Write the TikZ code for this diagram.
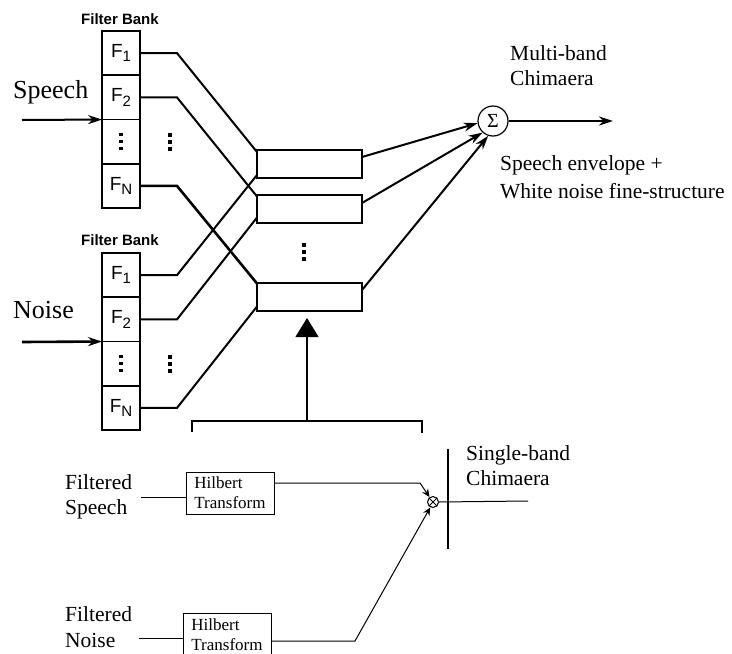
\documentclass[tikz,border=0pt]{standalone}
\usepackage{fontspec}
\setmainfont{Liberation Serif}
\setsansfont{Liberation Sans}
\usetikzlibrary{arrows.meta,calc}
\newcommand\Fsym[1]{F\raisebox{-4.5pt}{\fontsize{15}{15}\selectfont #1}}
\tikzset{
  cell/.style={draw, line width=1.8pt, rectangle, minimum width=38pt, minimum height=44.25pt,
    inner sep=0pt, outer sep=0pt, font=\sffamily\fontsize{19}{19}\selectfont},
  band/.style={draw, line width=2pt, rectangle, minimum width=105pt, minimum height=28pt,
    inner sep=0pt, outer sep=0pt},
  big/.style={font=\fontsize{26}{26}\selectfont, inner sep=0pt, anchor=base west},
  lbl/.style={font=\fontsize{21.5}{21.5}\selectfont, inner sep=0pt, anchor=base west},
  fbank/.style={font=\sffamily\bfseries\fontsize{15}{15}\selectfont, inner sep=0pt, anchor=base},
  hil/.style={draw, line width=1pt, rectangle, minimum width=88pt, minimum height=42pt,
    inner sep=0pt, outer sep=0pt, align=left, font=\fontsize{17}{20}\selectfont},
  wire/.style={line width=2pt},
  thinwire/.style={line width=1pt},
  arr/.style={-{Stealth[length=14pt,width=9pt]}},
  sarr/.style={-{Stealth[length=8pt,width=7pt]}},
  threedots/.pic={
    \fill (-1.6,-8.6) rectangle (1.6,-5.4);
    \fill (-1.6,-1.6) rectangle (1.6,1.6);
    \fill (-1.6,5.4) rectangle (1.6,8.6);
  },
}
\begin{document}
\begin{tikzpicture}[x=1pt,y=-1pt]
\useasboundingbox (0,0) rectangle (732,654);

% ---------- speech filter bank ----------
\node[fbank] (fbs) at (120,24) {Filter Bank};
\node[cell] (s1) at (121,53.1) {\Fsym{1}};
\node[cell] (s2) at (121,97.4) {\Fsym{2}};
\node[cell] (s3) at (121,141.6) {};
\node[cell] (s4) at (121,185.9) {\Fsym{N}};
\pic at (s3.center) {threedots};
\coordinate (sd) at (170,142);
\pic at (sd) {threedots};
\node[big] (tsp) at (13,98) {Speech};
\coordinate (sin) at (22,120);
\draw[wire, arr] (sin) -- (s2.south west);

% ---------- noise filter bank ----------
\node[fbank] (fbn) at (120,245) {Filter Bank};
\node[cell] (n1) at (121,275.1) {\Fsym{1}};
\node[cell] (n2) at (121,319.4) {\Fsym{2}};
\node[cell] (n3) at (121,363.6) {};
\node[cell] (n4) at (121,407.9) {\Fsym{N}};
\pic at (n3.center) {threedots};
\coordinate (nd) at (170,364);
\pic at (nd) {threedots};
\node[big] (tno) at (13,318) {Noise};
\coordinate (nin) at (22,342);
\draw[wire, arr, line width=2.6pt] (nin) -- (n2.south west);

% ---------- band boxes ----------
\node[band] (m1) at (309.5,164) {};
\node[band] (m2) at (309.5,208.5) {};
\node[band] (m3) at (309.5,296.5) {};
\coordinate (md) at (304,252);
\pic at (md) {threedots};

% connections banks -> bands
\draw[wire] (s1.east) -- ++(37,0) -- ([yshift=12pt]m1.west);
\draw[wire] (s2.east) -- ++(37,0) -- ([yshift=12pt]m2.west);
\draw[wire, line width=2.6pt] (s4.east) -- ++(37,0) -- ([yshift=13pt]m3.west);
\draw[wire] (n1.east) -- ++(37,0) -- ([yshift=-11pt]m1.west);
\draw[wire] (n2.east) -- ++(37,0) -- ([yshift=-9pt]m2.west);
\draw[wire] (n4.east) -- ++(37,0) -- ([yshift=-10pt]m3.west);

% ---------- summation ----------
\node[draw, circle, minimum size=30pt, inner sep=0pt, line width=1.2pt,
  font=\fontsize{20}{20}\selectfont] (sig) at (493,121) {Σ};
\draw[wire, arr] ([yshift=7pt]m1.east) -- (sig.188);
\draw[wire, arr] ([yshift=5.5pt]m2.east) -- (sig.228);
\draw[wire, arr] ([yshift=6.5pt]m3.east) -- (sig.252);
\coordinate (out) at (613,121);
\draw[wire, arr] (sig.east) -- (out);

\node[lbl] (tmb1) at (510,60) {Multi-band};
\node[lbl] (tmb2) at (510,85) {Chimaera};
\node[lbl] (tse1) at (500,170) {Speech envelope +};
\node[lbl] (tse2) at (500,198) {White noise fine-structure};

% ---------- bracket and big arrow ----------
\coordinate (bl) at (192,432);
\coordinate (blt) at (192,421);
\coordinate (brt) at (422,421);
\coordinate (br) at (422,433);
\draw[thinwire, line width=1.2pt] (bl) -- (blt) -- (brt) -- (br);
\coordinate (brk) at (307,421);
\coordinate (tip) at (307,318);
\draw[thinwire, line width=1.2pt, -{Triangle[length=19pt,width=23pt]}] (brk) -- (tip);

% ---------- single band detail ----------
\node[lbl] (tfs1) at (65,489) {Filtered};
\node[lbl] (tfs2) at (65,514) {Speech};
\node[lbl] (tfn1) at (65,621) {Filtered};
\node[lbl] (tfn2) at (65,647) {Noise};

\node[hil] (h1) at (230,493) {Hilbert\\Transform};
\node[hil, minimum height=43pt] (h2) at (227,634.5) {Hilbert\\Transform};

\coordinate (fsin) at (141,497);
\draw[thinwire] (fsin) -- (fsin -| h1.west);
\coordinate (fnin) at (139,638);
\draw[thinwire] (fnin) -- (fnin -| h2.west);

\node[draw, circle, minimum size=11pt, inner sep=0pt, line width=1pt] (mul) at (433,502) {};
\draw[thinwire] (mul.45) -- (mul.225) (mul.135) -- (mul.315);

\coordinate (b1) at (420,483);
\draw[thinwire, sarr] ([yshift=10pt]h1.east) -- (b1) -- (mul.125);
\coordinate (b2) at (355,641);
\draw[thinwire, sarr] ([yshift=-6.5pt]h2.east) -- (b2) -- (mul.243);

\coordinate (vt) at (448,449);
\coordinate (vb) at (448,549);
\draw[thinwire, line width=1.2pt] (vt) -- (vb);
\coordinate (sout) at (528,501);
\draw[thinwire] (mul.east) -- (sout);

\node[lbl] (tsb1) at (466,460) {Single-band};
\node[lbl] (tsb2) at (466,485) {Chimaera};
\end{tikzpicture}
\end{document}
